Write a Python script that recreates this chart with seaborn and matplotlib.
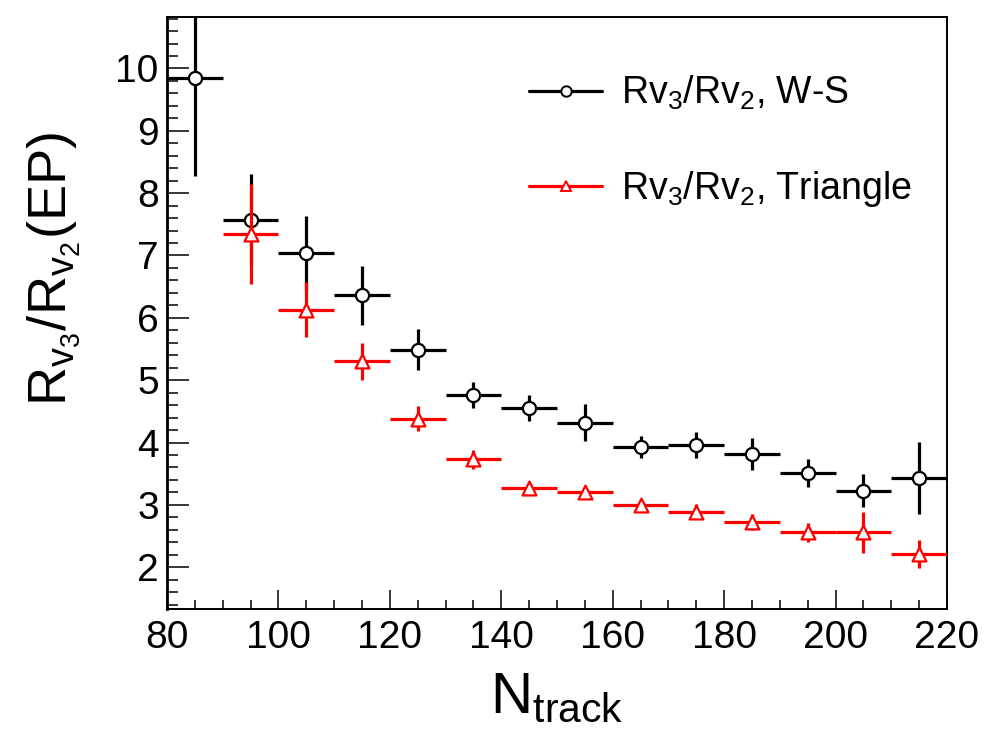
import numpy as np
import pandas as pd
import matplotlib
matplotlib.use("Agg")
import matplotlib.pyplot as plt
import seaborn as sns
from matplotlib.lines import Line2D
from matplotlib.ticker import MultipleLocator

# ---- data ----
ntrack_ws = [85, 95, 105, 115, 125, 135, 145, 155, 165, 175, 185, 195, 205, 215]
ratio_ws = [9.85, 7.57, 7.04, 6.36, 5.49, 4.76, 4.56, 4.32, 3.93, 3.96, 3.82, 3.51, 3.23, 3.43]
err_ws = [1.58, 0.73, 0.60, 0.47, 0.33, 0.21, 0.21, 0.30, 0.18, 0.21, 0.26, 0.23, 0.27, 0.58]

ntrack_tri = [95, 105, 115, 125, 135, 145, 155, 165, 175, 185, 195, 205, 215]
ratio_tri = [7.35, 6.13, 5.30, 4.38, 3.73, 3.27, 3.21, 3.00, 2.89, 2.72, 2.56, 2.56, 2.21]
err_tri = [0.80, 0.44, 0.30, 0.20, 0.15, 0.08, 0.07, 0.07, 0.12, 0.13, 0.15, 0.33, 0.23]

bin_half = 5
label_ws = r"$\mathregular{Rv_{3}/Rv_{2}}$, W-S"
label_tri = r"$\mathregular{Rv_{3}/Rv_{2}}$, Triangle"
xlabel = r"$\mathregular{N_{track}}$"
ylabel = r"$\mathregular{R_{v_{3}}/R_{v_{2}}(EP)}$"

df_ws = pd.DataFrame({"ntrack": ntrack_ws, "ratio": ratio_ws, "err": err_ws})
df_tri = pd.DataFrame({"ntrack": ntrack_tri, "ratio": ratio_tri, "err": err_tri})

sns.set_style("ticks")
plt.rcParams["font.family"] = ["Liberation Sans", "DejaVu Sans"]
plt.rcParams["mathtext.fontset"] = "custom"
plt.rcParams["mathtext.rm"] = "Liberation Sans"
plt.rcParams["mathtext.it"] = "Liberation Sans"
plt.rcParams["mathtext.bf"] = "Liberation Sans:bold"
for k in ["text.color", "axes.labelcolor", "xtick.color", "ytick.color", "axes.edgecolor"]:
    plt.rcParams[k] = "black"

fig = plt.figure(figsize=(9.9, 7.37), dpi=100)
ax = fig.add_axes([0.1687, 0.1737, 0.7879, 0.8028])

lw = 2.3
ax.errorbar(df_ws["ntrack"], df_ws["ratio"], xerr=bin_half, yerr=df_ws["err"],
            fmt="none", ecolor="black", elinewidth=lw, capsize=0, zorder=2)
sns.scatterplot(data=df_ws, x="ntrack", y="ratio", ax=ax, marker="o", s=90,
                facecolor="white", edgecolor="black", linewidth=1.6, zorder=3, legend=False)
ax.errorbar(df_tri["ntrack"], df_tri["ratio"], xerr=bin_half, yerr=df_tri["err"],
            fmt="none", ecolor="#ff0000", elinewidth=lw, capsize=0, zorder=4)
sns.scatterplot(data=df_tri, x="ntrack", y="ratio", ax=ax, marker="^", s=100,
                facecolor="white", edgecolor="#ff0000", linewidth=1.6, zorder=5, legend=False)

ax.set_xlim(80, 220)
ax.set_ylim(1.33, 10.82)
ax.xaxis.set_major_locator(MultipleLocator(20))
ax.xaxis.set_minor_locator(MultipleLocator(5))
ax.yaxis.set_major_locator(MultipleLocator(1))
ax.yaxis.set_minor_locator(MultipleLocator(0.2))
ax.tick_params(axis="both", which="both", direction="in", top=False, right=False,
               labelsize=28, color="black", labelcolor="black", width=1.1)
ax.tick_params(axis="y", which="major", length=15.8, pad=6)
ax.tick_params(axis="y", which="minor", length=8)
ax.tick_params(axis="x", which="major", length=13.7, pad=8)
ax.tick_params(axis="x", which="minor", length=6.5)
for s in ax.spines.values():
    s.set_linewidth(1.4)
    s.set_color("black")
ax.spines["left"].set_linewidth(2.0)

ax.set_xlabel("")
ax.set_ylabel("")
ax.text(0.50, -0.105, xlabel, transform=ax.transAxes, ha="center", va="top", fontsize=42,
        color="black")
ax.text(-0.145, 0.575, ylabel, transform=ax.transAxes, ha="center", va="center",
        rotation=90, fontsize=39, color="black")

handles = [
    Line2D([], [], color="black", lw=lw, marker="o", markersize=7.5,
           markerfacecolor="white", markeredgecolor="black", markeredgewidth=1.4),
    Line2D([], [], color="#ff0000", lw=lw, marker="^", markersize=7.5,
           markerfacecolor="white", markeredgecolor="#ff0000", markeredgewidth=1.4),
]
ax.legend(handles, [label_ws, label_tri], loc="upper left", bbox_to_anchor=(0.464, 0.904),
          frameon=False, fontsize=27, handlelength=1.95, handletextpad=0.5,
          labelspacing=1.5, borderpad=0, borderaxespad=0)

fig.savefig("out.png", dpi=100, facecolor="white")
